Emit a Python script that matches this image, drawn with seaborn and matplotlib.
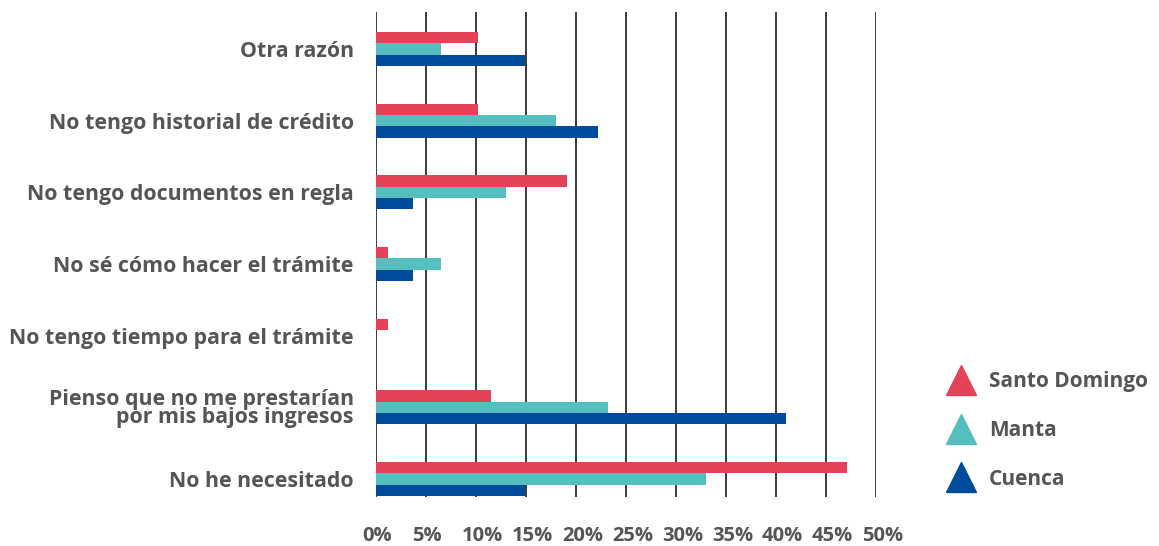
import matplotlib
matplotlib.use("Agg")
import matplotlib.pyplot as plt
import matplotlib.transforms as mtransforms
from matplotlib.lines import Line2D
import seaborn as sns
import pandas as pd

categories = [
    "Otra razón",
    "No tengo historial de crédito",
    "No tengo documentos en regla",
    "No sé cómo hacer el trámite",
    "No tengo tiempo para el trámite",
    "Pienso que no me prestarían\npor mis bajos ingresos",
    "No he necesitado",
]
series_names = ["Santo Domingo", "Manta", "Cuenca"]
santo_domingo = [10.2, 10.2, 19.1, 1.2, 1.2, 11.5, 47.1]
manta = [6.5, 18.0, 13.0, 6.5, 0.0, 23.2, 33.0]
cuenca = [14.9, 22.2, 3.7, 3.7, 0.0, 41.0, 14.9]
x_ticks = [0, 5, 10, 15, 20, 25, 30, 35, 40, 45, 50]
x_tick_labels = [f"{t}%" for t in x_ticks]

colors = ["#E44258", "#55BEBF", "#004B9B"]
text_color = "#555555"

rows = []
for name, vals in zip(series_names, [santo_domingo, manta, cuenca]):
    for c, v in zip(categories, vals):
        rows.append({"cat": c, "val": v, "city": name})
df = pd.DataFrame(rows)

sns.set_style("white")
plt.rcParams["font.family"] = ["Open Sans", "DejaVu Sans"]

fig = plt.figure(figsize=(11.59, 5.46), dpi=100)
ax = fig.add_axes([0.3244, 0.0897, 0.4314, 0.8883])

sns.barplot(data=df, y="cat", x="val", hue="city", order=categories,
            hue_order=series_names, palette=colors, orient="h",
            width=0.474, ax=ax, saturation=1, legend=False, zorder=3,
            linewidth=0)

ax.set_xlim(0, 50)
ax.set_ylim(6.251, -0.516)
ax.set_xticks(x_ticks)
ax.set_xticklabels(x_tick_labels)
ax.set_xlabel("")
ax.set_ylabel("")
for s in ax.spines.values():
    s.set_visible(False)
ax.xaxis.grid(True, color="#3a3a3a", linewidth=1.4, zorder=0)
ax.yaxis.grid(False)
ax.set_axisbelow(True)
ax.tick_params(axis="x", length=0, pad=21, labelsize=14.5, labelcolor=text_color)
ax.tick_params(axis="y", length=0, pad=16, labelsize=15.4, labelcolor=text_color)
offset = mtransforms.ScaledTranslation(-14 / 100, 0, fig.dpi_scale_trans)
for lab in ax.get_xticklabels():
    lab.set_fontweight("bold")
    lab.set_horizontalalignment("left")
    lab.set_transform(lab.get_transform() + offset)
for lab in ax.get_yticklabels():
    lab.set_fontweight("bold")
    lab.set_multialignment("right")
    lab.set_linespacing(0.8)

handles = [Line2D([], [], marker="^", linestyle="None", markersize=21,
                  markerfacecolor=c, markeredgecolor=c) for c in colors]
leg = fig.legend(handles, series_names, loc="upper left",
                 bbox_to_anchor=(0.801, 0.355), frameon=False,
                 labelspacing=1.34, handlelength=1.3, handletextpad=0.7,
                 prop={"weight": "bold", "size": 15})
for t in leg.get_texts():
    t.set_color(text_color)

fig.savefig("out.png", dpi=100)
